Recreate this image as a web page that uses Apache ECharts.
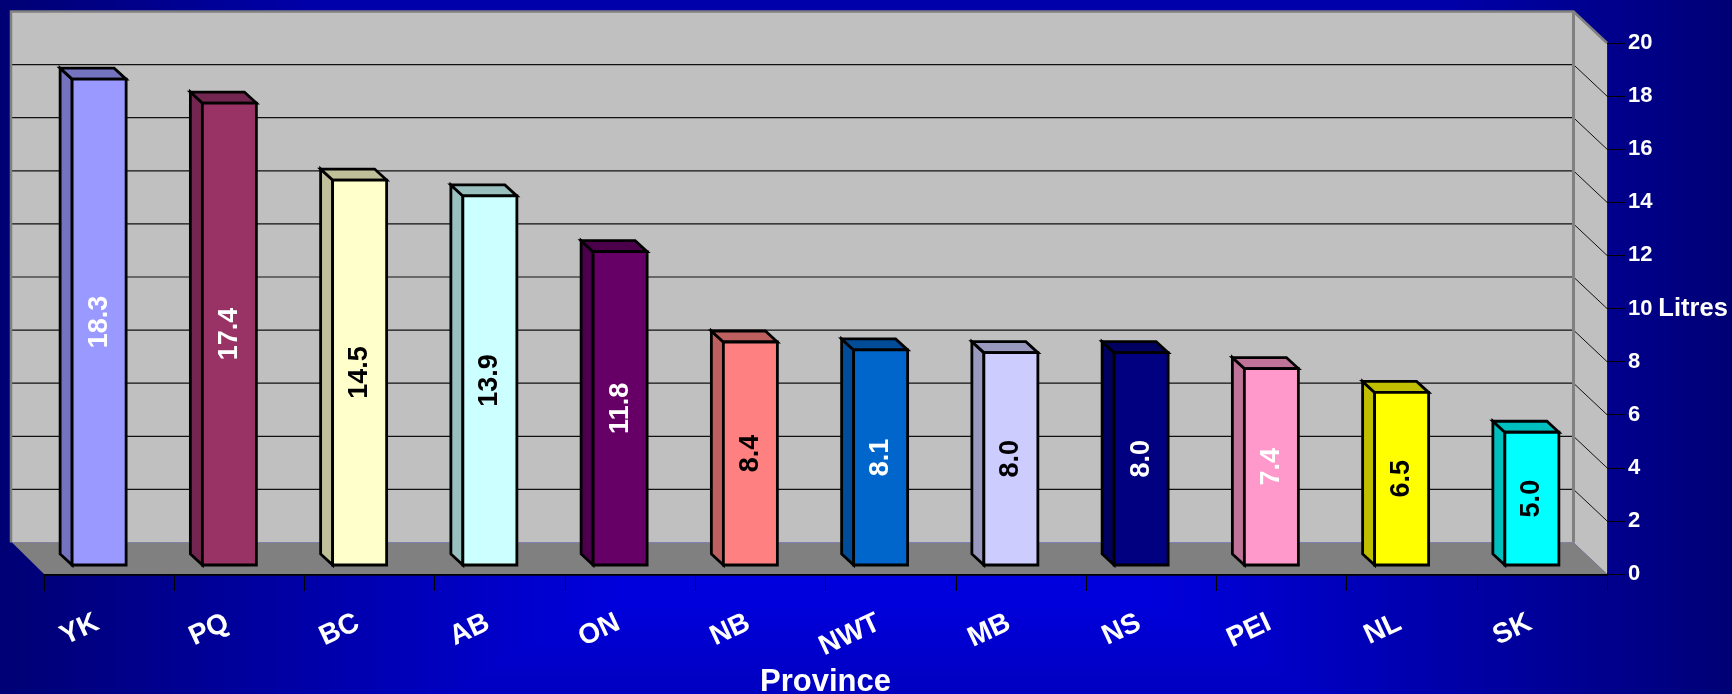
<!DOCTYPE html>
<html>
<head>
<meta charset="utf-8">
<style>
html,body{margin:0;padding:0;width:1732px;height:694px;overflow:hidden;}
body{
  background-image:
    linear-gradient(to bottom,#0000AA 0,#0000AA 20px,#0000E0 560px,#0000DC 600px,#0000C0 694px),
    linear-gradient(to right,#000074 0,#000082 5%,#0000CC 30%,#0000DD 36%,#0000E0 50%,#0000DD 66%,#0000CC 72%,#000080 97%,#000074 100%);
  background-blend-mode:darken;
}
#c{width:1732px;height:694px;}
</style>
<script src="https://cdn.jsdelivr.net/npm/echarts@6/dist/echarts.min.js"></script>
</head>
<body>
<div id="c"></div>
<script>
const categories=['YK','PQ','BC','AB','ON','NB','NWT','MB','NS','PEI','NL','SK'];
const values=[18.3,17.4,14.5,13.9,11.8,8.4,8.1,8.0,8.0,7.4,6.5,5.0];
const frontColors=['#9999FF','#993366','#FFFFCC','#CCFFFF','#660066','#FF8080','#0066CC','#CCCCFF','#000080','#FF99CC','#FFFF00','#00FFFF'];
const sideColors=['#7373BF','#732650','#BFBF99','#99BFBF','#4C004C','#BF6060','#004C99','#9999BF','#000060','#BF7399','#BFBF00','#00BFBF'];
const labelColors=['#fff','#fff','#000','#000','#fff','#000','#fff','#000','#fff','#fff','#000','#000'];
const gridValues=[2,4,6,8,10,12,14,16,18];

const chart=echarts.init(document.getElementById('c'),null,{renderer:'canvas'});
const FONT='"Liberation Sans",Arial,sans-serif';

function renderWalls(params,api){
  const r=params.coordSys;
  const backX=-32, backXR=-33.5, backY=-31.5;
  const xL=r.x,xR=r.x+r.width,yT=r.y,yB=r.y+r.height;
  const kids=[];
  kids.push({type:'polygon',shape:{points:[[xL+backX,yB+backY],[xR+backXR,yB+backY],[xR,yB],[xL,yB]]},style:{fill:'#808080'}});
  kids.push({type:'rect',shape:{x:xL+backX,y:yT+backY,width:r.width+backXR-backX,height:r.height},style:{fill:'#C0C0C0'}});
  kids.push({type:'polygon',shape:{points:[[xR+backXR,yT+backY],[xR,yT],[xR,yB],[xR+backXR,yB+backY]]},style:{fill:'#C0C0C0'}});
  gridValues.forEach(v=>{
    const y=api.coord([0,v])[1];
    kids.push({type:'line',shape:{x1:xL+backX,y1:y+backY,x2:xR+backXR,y2:y+backY},style:{stroke:'#111',lineWidth:1.2}});
    kids.push({type:'line',shape:{x1:xR+backXR,y1:y+backY,x2:xR,y2:y},style:{stroke:'#111',lineWidth:1}});
  });
  const greyLine={stroke:'#808080',lineWidth:2.5,fill:'none'};
  kids.push({type:'polyline',shape:{points:[[xL+backX-1,yB+backY],[xL+backX-1,yT+backY],[xR+backXR,yT+backY],[xR,yT]]},style:greyLine});
  kids.push({type:'line',shape:{x1:xR+backXR,y1:yT+backY,x2:xR+backXR,y2:yB+backY},style:{stroke:'#808080',lineWidth:3}});
  return {type:'group',children:kids};
}

function renderBar(params,api){
  const i=api.value(0),v=api.value(1);
  const top=api.coord([i,v]),base=api.coord([i,0]);
  const cx=top[0];
  const xa=cx-37,xb=cx+17,yt=top[1]-9,yb=base[1]-9;
  const dx=-12,dy=-11;
  const s={stroke:'#000',lineWidth:2.8,lineJoin:'miter'};
  return {type:'group',children:[
    {type:'polygon',shape:{points:[[xa,yt],[xa+dx,yt+dy],[xa+dx,yb+dy],[xa,yb]]},style:{fill:sideColors[i],...s}},
    {type:'polygon',shape:{points:[[xa,yt],[xa+dx,yt+dy],[xb+dx,yt+dy],[xb,yt]]},style:{fill:sideColors[i],...s}},
    {type:'rect',shape:{x:xa,y:yt,width:xb-xa,height:yb-yt},style:{fill:frontColors[i],...s}},
    {type:'text',x:(xa+xb)/2,y:(yt+yb)/2,rotation:Math.PI/2,
      style:{text:v.toFixed(1),fill:labelColors[i],font:'bold 27px '+FONT,align:'center',verticalAlign:'middle'}}
  ]};
}

chart.setOption({
  backgroundColor:'transparent',
  animation:false,
  grid:{left:44,right:125,top:43,bottom:120,containLabel:false,outerBoundsMode:'none'},
  xAxis:{
    type:'category',data:categories,boundaryGap:true,
    name:'Province',nameLocation:'middle',nameGap:93,
    nameTextStyle:{color:'#fff',fontFamily:FONT,fontWeight:'bold',fontSize:31},
    axisLine:{show:true,lineStyle:{color:'#000',width:2.5}},
    axisTick:{show:true,alignWithLabel:false,length:17,lineStyle:{color:'#000',width:1}},
    axisLabel:{interval:0,rotate:25,margin:42,color:'#fff',fontFamily:FONT,fontWeight:'bold',fontSize:28,padding:[0,13,0,0]},
    splitLine:{show:false}
  },
  yAxis:{
    type:'value',position:'right',min:0,max:20,interval:2,
    name:'Litres',nameLocation:'middle',nameRotate:0,nameGap:47,
    nameTextStyle:{color:'#fff',fontFamily:FONT,fontWeight:'bold',fontSize:25.5},
    axisLine:{show:true,lineStyle:{color:'#222',width:2}},
    axisTick:{show:true,length:18,lineStyle:{color:'#000',width:1}},
    axisLabel:{margin:21,color:'#fff',fontFamily:FONT,fontWeight:'bold',fontSize:22},
    splitLine:{show:false}
  },
  series:[
    {type:'custom',z:1,silent:true,clip:false,data:[[0,0]],encode:{x:0,y:1},renderItem:renderWalls},
    {type:'custom',z:3,silent:true,clip:false,data:categories.map((c,i)=>[i,values[i]]),encode:{x:0,y:1},renderItem:renderBar}
  ]
});
</script>
</body>
</html>
